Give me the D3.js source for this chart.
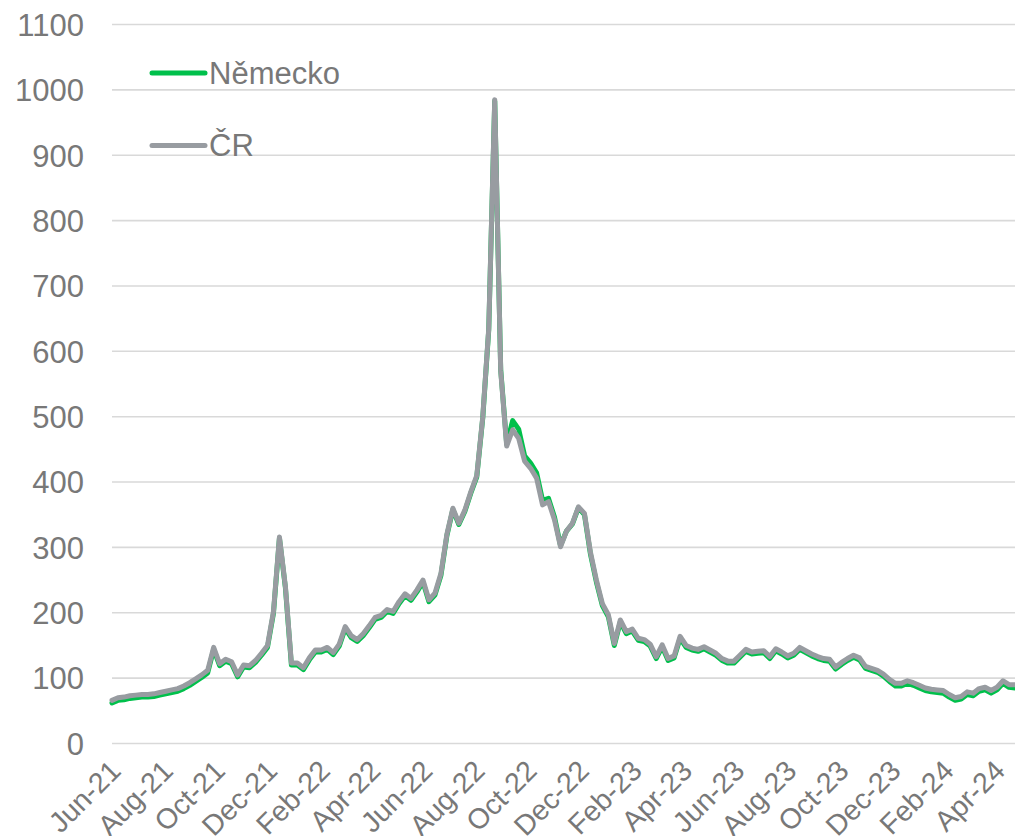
<!DOCTYPE html>
<html>
<head>
<meta charset="utf-8">
<script src="https://cdn.jsdelivr.net/npm/d3@7"></script>
<style>
  html, body { margin: 0; padding: 0; background: #fff; }
  svg { display: block; font-family: "Liberation Sans", Arial, sans-serif; }
</style>
</head>
<body>
<svg id="chart" width="1015" height="836"></svg>
<script>
// ---- data ----
const startDate = "2021-06-01";   // first weekly observation
const weekCount = 152;            // weekly observations
const seriesNames = ["Německo", "ČR"];
const nemecko = [62,66,67,69,70,71,71,72,74,76,78,80,84,89,95,101,108,144,119,126,122,102,117,116,124,135,147,199,314,238,
  120,120,113,128,140,140,144,136,149,176,162,156,165,177,190,193,202,199,214,226,219,232,247,217,227,257,318,358,335,355,
  383,408,498,633,983,572,458,494,481,440,429,414,372,375,346,303,325,336,361,350,290,247,211,194,150,186,168,172,158,156,
  149,130,148,127,131,161,147,143,141,145,140,135,127,123,123,132,141,137,138,139,130,142,137,131,135,144,139,134,130,127,
  126,114,121,127,132,128,115,112,109,103,95,88,88,92,89,85,81,79,78,77,71,66,68,75,73,80,82,77,82,92,86,85];
const cr = [66,70,71,73,74,75,75,76,78,80,82,84,88,93,99,105,112,147,122,129,125,105,120,119,127,138,150,202,316,240,
  123,123,116,131,143,143,147,139,152,179,165,159,168,180,193,196,205,202,217,229,222,235,250,220,230,260,320,360,337,357,
  385,410,500,635,985,570,455,480,467,432,421,406,365,370,342,301,325,337,362,352,293,250,214,197,153,189,171,175,161,159,
  152,133,151,130,134,164,150,146,144,148,143,138,130,126,126,135,144,140,141,142,133,145,140,134,138,147,142,137,133,130,
  129,117,124,130,135,131,118,115,112,106,98,92,92,96,93,89,85,83,82,81,75,70,72,79,77,84,86,81,86,96,90,90];
const xTickLabels = ["Jun-21","Aug-21","Oct-21","Dec-21","Feb-22","Apr-22","Jun-22","Aug-22","Oct-22","Dec-22",
  "Feb-23","Apr-23","Jun-23","Aug-23","Oct-23","Dec-23","Feb-24","Apr-24"];
const yTicks = [0,100,200,300,400,500,600,700,800,900,1000,1100];

// ---- layout ----
const W = 1015, H = 836;
const plot = { left: 112, right: 1015, top: 24.5, bottom: 743.5 };
const colors = { "Německo": "#00c04b", "ČR": "#989ca1" };
const textColor = "#787878";

const svg = d3.select("#chart");
const parseISO = d3.utcParse("%Y-%m-%d");
const parseTick = d3.utcParse("%b-%y");
const start = parseISO(startDate);
const dates = d3.range(weekCount).map(i => d3.utcDay.offset(start, 7 * i));

const x = d3.scaleUtc()
  .domain([dates[0], dates[dates.length - 1]])
  .range([plot.left, plot.right]);
const y = d3.scaleLinear().domain([0, 1100]).range([plot.bottom, plot.top]);

// gridlines
svg.append("g").selectAll("line").data(yTicks).join("line")
  .attr("x1", plot.left).attr("x2", plot.right)
  .attr("y1", d => y(d)).attr("y2", d => y(d))
  .attr("stroke", "#d9d9d9").attr("stroke-width", 1.6);

// y axis labels
const yAxis = d3.axisLeft(y).tickValues(yTicks).tickSize(0).tickPadding(0).tickFormat(d3.format("d"));
const gy = svg.append("g").attr("transform", `translate(84,0)`).call(yAxis);
gy.select(".domain").remove();
gy.selectAll("text").attr("font-size", 31).attr("fill", textColor)
  .attr("font-family", '"Liberation Sans", Arial, sans-serif')
  .attr("dy", "0.35em").attr("x", 0);

// x axis labels
const tickDates = xTickLabels.map(parseTick);
const xAxis = d3.axisBottom(x).tickValues(tickDates).tickSize(0).tickFormat(d3.utcFormat("%b-%y"));
const gx = svg.append("g").attr("transform", `translate(0,${plot.bottom})`).call(xAxis);
gx.select(".domain").remove();
gx.selectAll("text")
  .attr("font-size", 28.5).attr("fill", textColor)
  .attr("font-family", '"Liberation Sans", Arial, sans-serif')
  .attr("text-anchor", "end")
  .attr("x", 0).attr("y", 0).attr("dy", 0)
  .attr("transform", "translate(10,29) rotate(-45)");

// lines
const rows = dates.map((d, i) => ({ date: d, "Německo": nemecko[i], "ČR": cr[i] }));
const line = key => d3.line().x(d => x(d.date)).y(d => y(d[key]));
seriesNames.forEach(name => {
  svg.append("path").datum(rows)
    .attr("fill", "none")
    .attr("stroke", colors[name])
    .attr("stroke-width", 5)
    .attr("stroke-linejoin", "round")
    .attr("stroke-linecap", "round")
    .attr("d", line(name));
});

// legend
const legendItems = [{ name: "Německo", y: 73 }, { name: "ČR", y: 145.5 }];
const lg = svg.append("g");
legendItems.forEach(it => {
  lg.append("line").attr("x1", 152).attr("x2", 205).attr("y1", it.y).attr("y2", it.y)
    .attr("stroke", colors[it.name]).attr("stroke-width", 5).attr("stroke-linecap", "round");
  lg.append("text").attr("x", 209).attr("y", it.y).attr("dy", "0.35em")
    .attr("font-size", 31).attr("fill", textColor).text(it.name);
});
</script>
</body>
</html>
